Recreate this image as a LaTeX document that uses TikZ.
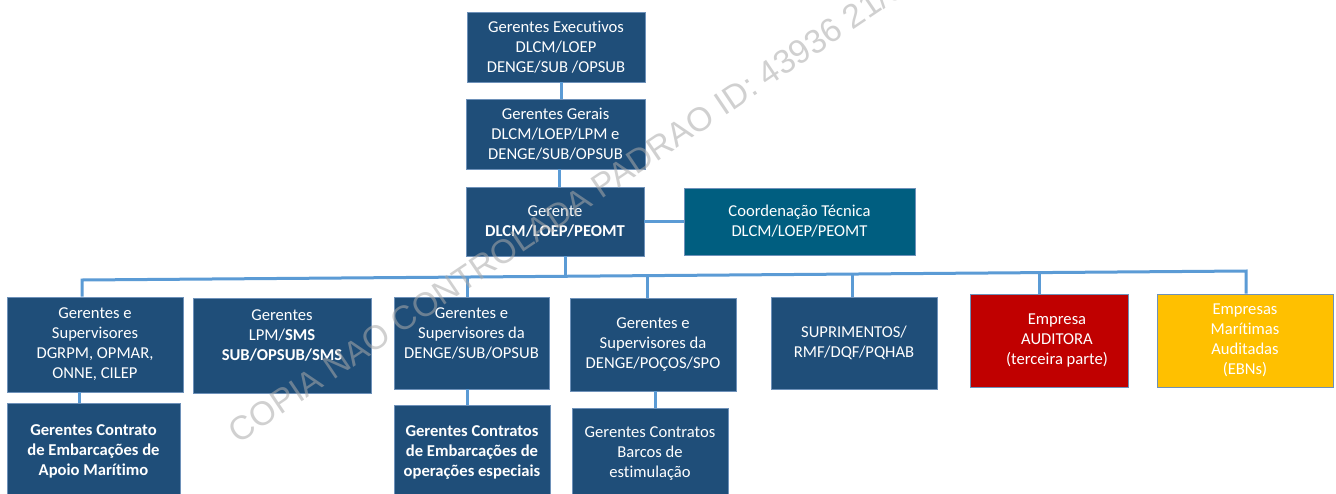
\documentclass[tikz,border=0pt]{standalone}
\usepackage{fontspec}
\setmainfont{Carlito}[Ligatures=CommonOff]
\newfontfamily\wmfont{Liberation Sans}
\definecolor{navy}{RGB}{31,78,121}
\definecolor{boxedge}{RGB}{110,145,185}
\definecolor{teal}{RGB}{0,94,128}
\definecolor{audred}{RGB}{192,0,0}
\definecolor{ebnyellow}{RGB}{255,192,0}
\definecolor{linkblue}{RGB}{91,155,213}
\definecolor{wmgray}{RGB}{170,170,170}
\begin{document}
\begin{tikzpicture}[x=1pt,y=-1pt,
  box/.style={draw=boxedge, line width=0.8pt, fill=navy, text=white, inner sep=2pt,
    align=center, font=\fontsize{16.6}{20}\selectfont},
  link/.style={draw=linkblue, line width=3pt},
  wm/.style={text=wmgray, opacity=0.55, font=\wmfont\fontsize{33.5}{38}\selectfont}]
\useasboundingbox (0,0) rectangle (1336,493);
\clip (0,0) rectangle (1336,493);
\fill[white] (0,0) rectangle (1336,493);

% top chain
\node[box, minimum width=178pt, minimum height=70pt] (exec) at (556,47)
  {Gerentes Executivos\\DLCM/LOEP\\DENGE/SUB /OPSUB};
\node[box, minimum width=179pt, minimum height=70pt] (gerais) at (555.5,134)
  {Gerentes Gerais\\DLCM/LOEP/LPM e\\DENGE/SUB/OPSUB};
\node[box, minimum width=178pt, minimum height=69pt] (ger) at (555,221.5)
  {Gerente\\\textbf{DLCM/LOEP/PEOMT}};
\node[box, fill=teal, minimum width=231pt, minimum height=67pt] (coord) at (799.5,221.5)
  {Coordenação Técnica\\DLCM/LOEP/PEOMT};

% second row
\node[box, minimum width=176pt, minimum height=95pt] (A) at (95,344.5)
  {Gerentes e\\Supervisores\\DGRPM, OPMAR,\\ONNE, CILEP};
\node[box, minimum width=178pt, minimum height=95pt] (B) at (282,345.5)
  {Gerentes\\LPM/\textbf{SMS}\\\textbf{SUB/OPSUB/SMS}\\~};
\node[box, minimum width=155pt, minimum height=92pt] (C) at (471.5,343)
  {Gerentes e\\Supervisores da\\DENGE/SUB/OPSUB\\~};
\node[box, minimum width=166pt, minimum height=93pt] (D) at (653,344.5)
  {Gerentes e\\Supervisores da\\DENGE/POÇOS/SPO};
\node[box, minimum width=166pt, minimum height=92pt] (E) at (854,343)
  {SUPRIMENTOS/\\RMF/DQF/PQHAB};
\node[box, fill=audred, minimum width=158pt, minimum height=93pt] (F) at (1049,340.5)
  {\hspace*{16pt}Empresa\\\hspace*{16pt}AUDITORA\\\hspace*{16pt}(terceira parte)};
\node[box, fill=ebnyellow, minimum width=176pt, minimum height=93pt] (G) at (1245,340.5)
  {Empresas\\Marítimas\\Auditadas\\(EBNs)};

% third row
\node[box, minimum width=173pt, minimum height=97pt] (subA) at (93.5,451.5)
  {\textbf{Gerentes Contrato}\\\textbf{de Embarcações de}\\\textbf{Apoio Marítimo}};
\node[box, minimum width=156pt, minimum height=95pt] (subC) at (472,452.5)
  {\textbf{Gerentes Contratos}\\\textbf{de Embarcações de}\\\textbf{operações especiais}};
\node[box, minimum width=156pt, minimum height=92pt] (subD) at (650,454)
  {Gerentes Contratos\\Barcos de\\estimulação};

% bus junctions
\coordinate (busL) at (82,280);
\coordinate (jC) at (467,277);
\coordinate (jG) at (565,276.3);
\coordinate (jD) at (647,275.6);
\coordinate (jE) at (852,274);
\coordinate (jF) at (1039,272.6);
\coordinate (busR) at (1246,271);

% connectors
\draw[link] ([xshift=5pt]exec.south) -- ([xshift=5pt]exec.south |- gerais.north);
\draw[link] ([xshift=3.5pt]gerais.south) -- ([xshift=3.5pt]gerais.south |- ger.north);
\draw[link] (ger.east) -- (coord.west |- ger.east);
\draw[link] (jG |- ger.south) -- (jG);
\draw[link] (busL |- A.north) -- (busL) -- (busR) -- (busR |- G.north);
\draw[link] (jC) -- (jC |- C.north);
\draw[link] (jD) -- (jD |- D.north);
\draw[link] (jE) -- (jE |- E.north);
\draw[link] (jF) -- (jF |- F.north);
\coordinate (sA) at (79,0);
\coordinate (sD) at (655,0);
\draw[link] (sA |- A.south) -- (sA |- subA.north);
\draw[link] (jC |- C.south) -- (jC |- subC.north);
\draw[link] (sD |- D.south) -- (sD |- subD.north);

% watermark
\node[wm, rotate=34, anchor=base west] (wmark) at (236,446)
  {COPIA NAO CONTROLADA PADRAO ID: 43936 21/0};
\end{tikzpicture}
\end{document}
